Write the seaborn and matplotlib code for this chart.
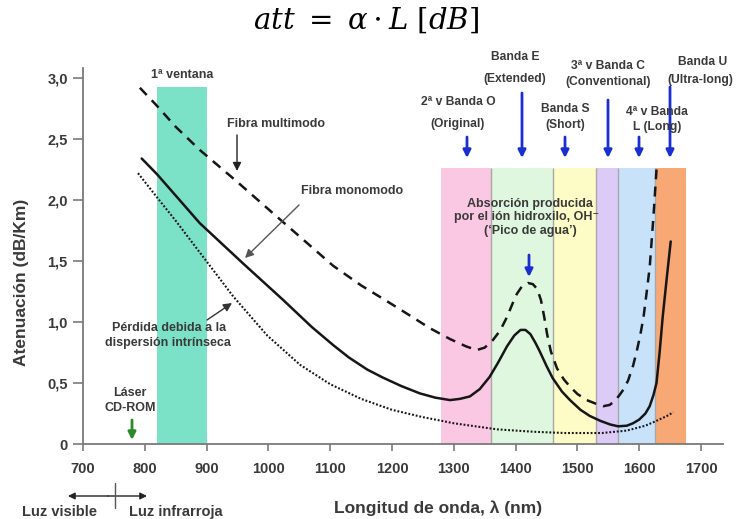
import matplotlib
matplotlib.use("Agg")
import matplotlib.pyplot as plt
import seaborn as sns

# ---------------- data ----------------
multimodo_wl = [792, 820, 850, 889, 947, 1019, 1105, 1150, 1192, 1230, 1261, 1294, 1320, 1337,
                1350, 1363, 1375, 1386, 1395, 1402, 1410, 1420, 1428, 1435, 1441, 1446,
                1451, 1457, 1467, 1478, 1488, 1500, 1515, 1530, 1542, 1552, 1560, 1568,
                1575, 1582, 1590, 1596, 1602, 1607, 1612, 1617, 1623, 1628]
multimodo_att = [2.92, 2.77, 2.60, 2.41, 2.16, 1.84, 1.46, 1.30, 1.17, 1.05, 0.95, 0.86, 0.80, 0.77,
                 0.79, 0.85, 0.93, 1.04, 1.15, 1.23, 1.29, 1.32, 1.31, 1.27, 1.18, 1.05,
                 0.90, 0.76, 0.62, 0.53, 0.47, 0.41, 0.36, 0.33, 0.31, 0.32, 0.35, 0.40,
                 0.45, 0.52, 0.64, 0.76, 0.90, 1.04, 1.24, 1.45, 1.86, 2.25]

monomodo_wl = [795, 820, 889, 959, 1024, 1070, 1105, 1130, 1160, 1185, 1215, 1245, 1270,
               1294, 1310, 1326, 1342, 1358, 1372, 1386, 1398, 1408, 1416, 1424, 1432,
               1439, 1450, 1460, 1475, 1488, 1505, 1520, 1537, 1553, 1566, 1580, 1590,
               1600, 1610, 1617, 1623, 1628, 1633, 1638, 1645, 1651]
monomodo_att = [2.34, 2.21, 1.81, 1.48, 1.18, 0.96, 0.81, 0.71, 0.61, 0.545, 0.475, 0.415, 0.38,
                0.36, 0.37, 0.39, 0.45, 0.55, 0.67, 0.80, 0.89, 0.935, 0.935, 0.90, 0.83,
                0.76, 0.64, 0.54, 0.43, 0.36, 0.28, 0.23, 0.19, 0.16, 0.145, 0.15, 0.17,
                0.20, 0.25, 0.31, 0.40, 0.50, 0.75, 1.04, 1.38, 1.66]

rayleigh_wl = [789, 820, 850, 889, 943, 998, 1051, 1100, 1150, 1200, 1250, 1300, 1370,
               1430, 1480, 1540, 1580, 1610, 1628, 1645, 1655]
rayleigh_att = [2.22, 2.02, 1.83, 1.57, 1.21, 0.89, 0.65, 0.49, 0.37, 0.28, 0.22, 0.17, 0.12,
                0.10, 0.09, 0.09, 0.11, 0.15, 0.19, 0.23, 0.26]

window1_start = [820]
window1_end = [900]
window1_top = [2.93]

band_start = [1280, 1360, 1460, 1530, 1565, 1625]
band_end = [1360, 1460, 1530, 1565, 1625, 1675]
band_top = [2.26, 2.26, 2.26, 2.26, 2.26, 2.26]
band_colors = ["#fbc8e3", "#e0f7df", "#fdfcc6", "#dccbf6", "#c8e2fa", "#f8a874"]

x_ticks = [700, 800, 900, 1000, 1100, 1200, 1300, 1400, 1500, 1600, 1700]
y_ticks = [0, 0.5, 1.0, 1.5, 2.0, 2.5, 3.0]
y_tick_labels = ["0", "0,5", "1,0", "1,5", "2,0", "2,5", "3,0"]

# ---------------- style ----------------
sns.set_style("ticks")
plt.rcParams["font.family"] = ["Liberation Sans", "DejaVu Sans"]
plt.rcParams["mathtext.fontset"] = "dejavuserif"

W, H = 737, 519
TXT = "#3a3a3a"
BLUE = "#1b2fd0"

fig = plt.figure(figsize=(W / 100, H / 100), dpi=100)
fig.patch.set_facecolor("white")
ax = fig.add_axes([83 / W, (H - 444) / H, (723 - 83) / W, (444 - 68) / H])
ax.set_facecolor("white")

# bands
ax.bar(window1_start, window1_top,
       width=[e - s for s, e in zip(window1_start, window1_end)],
       align="edge", color="#7be2c8", edgecolor="none", zorder=1)
ax.bar(band_start, band_top,
       width=[e - s for s, e in zip(band_start, band_end)],
       align="edge", color=band_colors, edgecolor="none", zorder=1)
ax.vlines(band_start[1:], 0, band_top[1:], colors="#a8a8a8", lw=1.0, zorder=1.5)

# curves
sns.lineplot(x=multimodo_wl, y=multimodo_att, ax=ax, color="#161616", lw=1.8,
             linestyle=(0, (4.0, 2.9)), estimator=None, sort=False, zorder=3)
sns.lineplot(x=monomodo_wl, y=monomodo_att, ax=ax, color="#161616", lw=1.8,
             estimator=None, sort=False, zorder=3)
sns.lineplot(x=rayleigh_wl, y=rayleigh_att, ax=ax, color="#161616", lw=1.5,
             linestyle=(0, (0.9, 0.9)), estimator=None, sort=False, zorder=3)

ax.set_xlim(700, 700 + (723 - 83) / 0.618)
ax.set_ylim(0, (444 - 68) / 122)
ax.set_xticks(x_ticks)
ax.set_xticklabels([str(t) for t in x_ticks])
ax.set_yticks(y_ticks)
ax.set_yticklabels(y_tick_labels)
ax.set_xlabel("")
ax.set_ylabel("")
sns.despine(ax=ax)
for s in ("left", "bottom"):
    ax.spines[s].set_color("#7a7a7a")
    ax.spines[s].set_linewidth(1.3)
ax.tick_params(axis="x", length=5, width=1.2, color="#7a7a7a", pad=8,
               labelsize=10.5, labelcolor=TXT)
ax.tick_params(axis="y", length=7, width=1.2, color="#7a7a7a", pad=4,
               labelsize=10.5, labelcolor=TXT)
for lab in ax.get_xticklabels() + ax.get_yticklabels():
    lab.set_fontweight("bold")


def ftext(X, Y, s, size=9, color=TXT, ha="center", **kw):
    fig.text(X / W, 1 - Y / H, s, fontsize=size, color=color, ha=ha, va="center",
             fontweight="bold", **kw)


def farrow(X0, Y0, X1, Y1, color, lw=1.0, hl=0.5, hw=0.25, ms=12, style="-|>"):
    ax.annotate("", xy=(X1, H - Y1), xytext=(X0, H - Y0),
                xycoords="figure pixels", textcoords="figure pixels",
                annotation_clip=False,
                arrowprops=dict(arrowstyle=f"{style},head_length={hl},head_width={hw}",
                                color=color, lw=lw, shrinkA=0, shrinkB=0,
                                mutation_scale=ms))


# title
fig.text(366 / W, 1 - 20 / H, r"$att\ =\ \alpha \cdot L\ [dB]$", fontsize=21,
         fontweight="normal", ha="center", va="center", color="black")

# axis labels
ftext(438, 508, "Longitud de onda, λ (nm)", size=12.5)
ftext(22, 282, "Atenuación (dB/Km)", size=12.5, rotation=90)

# window / curves annotations
ftext(182, 75, "1ª ventana", size=9)
ftext(227, 124, "Fibra multimodo", size=9, ha="left")
farrow(237, 135, 237, 171, "#222222", lw=1.0, ms=10)
ftext(301, 191, "Fibra monomodo", size=9, ha="left")
farrow(299, 205, 245, 258, "#555555", lw=1.0, ms=10)
ftext(169, 328, "Pérdida debida a la", size=9)
ftext(168, 343, "dispersión intrínseca", size=9)
farrow(207, 320, 232, 303, "#333333", lw=1.0, ms=10)
ftext(130, 393, "Láser", size=9)
ftext(130, 408, "CD-ROM", size=9)
farrow(132, 420, 132, 440, "#2a8a2a", lw=2.0, ms=9)

# light type
farrow(108, 496, 68, 496, "#222222", lw=1.0, ms=8)
farrow(108, 496, 147, 496, "#222222", lw=1.0, ms=8)
fig.add_artist(plt.Line2D([115 / W, 115 / W], [1 - 483 / H, 1 - 508 / H],
                          color="#555555", lw=1.0))
ftext(60, 512, "Luz visible", size=10.5)
ftext(176, 512, "Luz infrarroja", size=10.5)

# bands labels and arrows
ftext(458, 102, "2ª v Banda O", size=8.7)
ftext(458, 124, "(Original)", size=8.7)
farrow(467, 137, 467, 158, BLUE, lw=2.0, ms=9)
ftext(515, 57, "Banda E", size=8.7)
ftext(515, 79, "(Extended)", size=8.7)
farrow(522, 93, 522, 158, BLUE, lw=2.0, ms=9)
ftext(565, 109, "Banda S", size=8.7)
ftext(565, 125, "(Short)", size=8.7)
farrow(565, 137, 565, 158, BLUE, lw=2.0, ms=9)
ftext(608, 66, "3ª v Banda C", size=8.7)
ftext(608, 82, "(Conventional)", size=8.7)
farrow(608, 100, 608, 158, BLUE, lw=2.0, ms=9)
ftext(657, 112, "4ª v Banda", size=8.7)
ftext(657, 127, "L (Long)", size=8.7)
farrow(639, 137, 639, 158, BLUE, lw=2.0, ms=9)
ftext(703, 62, "Banda U", size=8.7)
ftext(700, 80, "(Ultra-long)", size=8.7)
farrow(670, 87, 670, 158, BLUE, lw=2.0, ms=9)

# water peak
ftext(530, 204, "Absorción producida", size=9)
ftext(527, 217, "por el ión hidroxilo, OH⁻", size=9)
ftext(530, 231, "(‘Pico de agua’)", size=9)
farrow(529, 255, 529, 277, BLUE, lw=2.0, ms=9)

fig.savefig("out.png", dpi=100, facecolor="white")
